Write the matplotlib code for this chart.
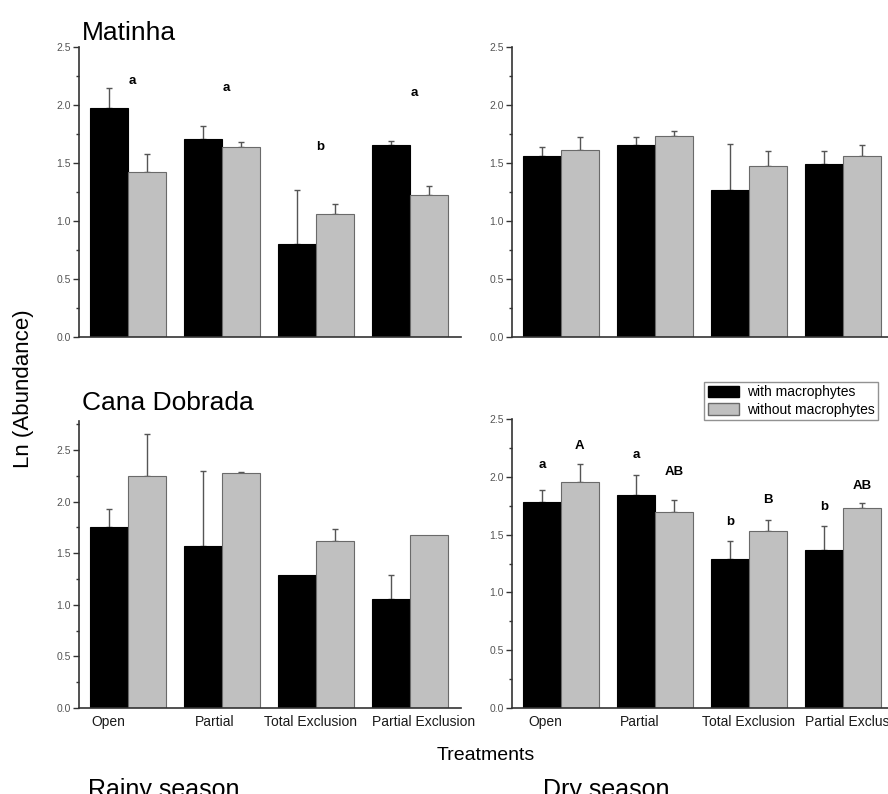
import matplotlib.pyplot as plt
import numpy as np
from matplotlib.patches import Patch
from matplotlib.ticker import MultipleLocator, FormatStrFormatter
from matplotlib.transforms import ScaledTranslation

plt.rcParams['font.family'] = ['Liberation Sans', 'DejaVu Sans']

treatments = ['Open', 'Partial', 'Total Exclusion', 'Partial Exclusion']

# Matinha - rainy season
mat_rainy_with = [1.97, 1.71, 0.80, 1.655]
mat_rainy_with_err = [0.18, 0.11, 0.47, 0.035]
mat_rainy_without = [1.425, 1.635, 1.06, 1.22]
mat_rainy_without_err = [0.15, 0.045, 0.09, 0.08]
mat_rainy_letters = ['a', 'a', 'b', 'a']
mat_rainy_letter_y = [2.21, 2.15, 1.64, 2.10]

# Matinha - dry season
mat_dry_with = [1.56, 1.655, 1.27, 1.49]
mat_dry_with_err = [0.075, 0.065, 0.39, 0.11]
mat_dry_without = [1.615, 1.73, 1.47, 1.56]
mat_dry_without_err = [0.105, 0.045, 0.135, 0.095]

# Cana Dobrada - rainy season
cd_rainy_with = [1.753, 1.57, 1.293, 1.052]
cd_rainy_with_err = [0.177, 0.73, 0.0, 0.241]
cd_rainy_without = [2.25, 2.278, 1.62, 1.68]
cd_rainy_without_err = [0.405, 0.01, 0.11, 0.0]

# Cana Dobrada - dry season
cd_dry_with = [1.779, 1.845, 1.29, 1.367]
cd_dry_with_err = [0.107, 0.173, 0.155, 0.204]
cd_dry_without = [1.952, 1.695, 1.534, 1.727]
cd_dry_without_err = [0.158, 0.105, 0.096, 0.043]
cd_dry_with_letters = ['a', 'a', 'b', 'b']
cd_dry_with_letter_y = [2.10, 2.19, 1.61, 1.74]
cd_dry_without_letters = ['A', 'AB', 'B', 'AB']
cd_dry_without_letter_y = [2.27, 2.04, 1.80, 1.92]

W, H = 888, 794
fig = plt.figure(figsize=(W / 100, H / 100), dpi=100)
BW = 0.404
x = np.arange(len(treatments))


def px_axes(left, bottom, top, width=381.6):
    return fig.add_axes([left / W, 1 - bottom / H, width / W, (bottom - top) / H])


def draw_panel(ax, with_v, with_e, without_v, without_e, ymax, label_dx=None):
    for xs, vals, errs, fc, ec in [(x - BW / 2, with_v, with_e, 'black', 'black'),
                                   (x + BW / 2, without_v, without_e, '#c0c0c0', '#6a6a6a')]:
        ax.bar(xs, vals, BW, color=fc, edgecolor=ec, linewidth=0.8, zorder=2)
        errs = np.array(errs)
        keep = errs > 0
        ax.errorbar(np.array(xs)[keep], np.array(vals)[keep],
                    yerr=[np.zeros(keep.sum()), errs[keep]], fmt='none',
                    ecolor='#555555', elinewidth=1, capsize=2.2, capthick=1, zorder=1)
    ax.set_xlim(-0.52, 3.54)
    ax.set_ylim(0, ymax)
    for s in ['top', 'right']:
        ax.spines[s].set_visible(False)
    for s in ['left', 'bottom']:
        ax.spines[s].set_color('#333333')
        ax.spines[s].set_linewidth(1.2)
    ax.yaxis.set_major_locator(MultipleLocator(0.5))
    ax.yaxis.set_minor_locator(MultipleLocator(0.25))
    ax.yaxis.set_major_formatter(FormatStrFormatter('%.1f'))
    ax.tick_params(axis='y', which='major', direction='out', length=4, width=1,
                   color='#333333', labelsize=7.5, labelcolor='#555555', pad=2)
    ax.tick_params(axis='y', which='minor', direction='out', length=2.5, width=1,
                   color='#333333')
    ax.set_xticks(x)
    if label_dx is None:
        ax.set_xticklabels([])
        ax.tick_params(axis='x', length=0)
    else:
        ax.set_xticklabels(treatments)
        ax.tick_params(axis='x', length=0, labelsize=10, labelcolor='#1a1a1a', pad=5)
        for lab, dx in zip(ax.get_xticklabels(), label_dx):
            lab.set_transform(lab.get_transform() +
                              ScaledTranslation(dx / 100, 0, fig.dpi_scale_trans))


ax_tl = px_axes(79, 337, 47)
draw_panel(ax_tl, mat_rainy_with, mat_rainy_with_err,
           mat_rainy_without, mat_rainy_without_err, 2.5)
for xi, t, yv in zip(x, mat_rainy_letters, mat_rainy_letter_y):
    ax_tl.text(xi + 0.05, yv, t, ha='center', va='center', fontsize=9.5, fontweight='bold')

ax_tr = px_axes(512, 337, 47)
draw_panel(ax_tr, mat_dry_with, mat_dry_with_err,
           mat_dry_without, mat_dry_without_err, 2.5)

ax_bl = px_axes(79, 708, 421)
draw_panel(ax_bl, cd_rainy_with, cd_rainy_with_err,
           cd_rainy_without, cd_rainy_without_err, 2.78,
           label_dx=[-19.5, -7.5, -5, 13.5])

ax_br = px_axes(512, 708, 419)
draw_panel(ax_br, cd_dry_with, cd_dry_with_err,
           cd_dry_without, cd_dry_without_err, 2.5,
           label_dx=[-16, -15, 0, 13.5])
for xi, t, yv in zip(x - BW / 2, cd_dry_with_letters, cd_dry_with_letter_y):
    ax_br.text(xi, yv, t, ha='center', va='center', fontsize=9.5, fontweight='bold')
for xi, t, yv in zip(x + BW / 2, cd_dry_without_letters, cd_dry_without_letter_y):
    ax_br.text(xi, yv, t, ha='center', va='center', fontsize=9.5, fontweight='bold')

# titles and labels
fig.text(82 / W, 1 - 40 / H, 'Matinha', fontsize=19, va='baseline', ha='left')
fig.text(82 / W, 1 - 410 / H, 'Cana Dobrada', fontsize=19, va='baseline', ha='left')
fig.text(23 / W, 1 - 389 / H, 'Ln (Abundance)', fontsize=16, rotation=90,
         va='center', ha='center')
fig.text(486 / W, 1 - 756 / H, 'Treatments', fontsize=14, va='center', ha='center')
fig.text(88 / W, 1 - 797 / H, 'Rainy season', fontsize=18, va='baseline', ha='left')
fig.text(543 / W, 1 - 797 / H, 'Dry season', fontsize=18, va='baseline', ha='left')

handles = [Patch(facecolor='black', edgecolor='black', label='with macrophytes'),
           Patch(facecolor='#c0c0c0', edgecolor='#6a6a6a', label='without macrophytes')]
leg = fig.legend(handles=handles, loc='upper right',
                 bbox_to_anchor=(878 / W, 1 - 382 / H), fontsize=10,
                 frameon=True, fancybox=False, handlelength=2.25, handleheight=0.9,
                 borderpad=0.25, labelspacing=0.25, handletextpad=0.55, borderaxespad=0)
leg.get_frame().set_edgecolor('#777777')
leg.get_frame().set_linewidth(1)

plt.savefig('out.png', dpi=100)
